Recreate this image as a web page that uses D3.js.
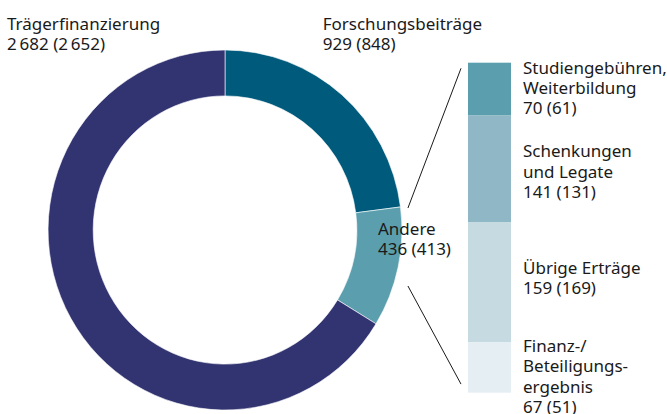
<!DOCTYPE html>
<meta charset="utf-8">
<style>
body { margin: 0; background: #fff; }
text { font-family: "Noto Sans", sans-serif; font-size: 17px; fill: #1a1a1a; }
</style>
<svg width="667" height="414"></svg>
<script src="https://cdn.jsdelivr.net/npm/d3@7"></script>
<script>

// main ring, clockwise from 12 o'clock
var mainCats = ["Forschungsbeiträge", "Andere", "Trägerfinanzierung"],
    mainVals = [929, 436, 2682],
    mainPrev = [848, 413, 2652],
    mainColors = ["#005a7b", "#5b9fae", "#323471"];

// breakdown of "Andere", top to bottom
var subCats = [["Studiengebühren,", "Weiterbildung"], ["Schenkungen", "und Legate"], ["Übrige Erträge"], ["Finanz-/", "Beteiligungs-", "ergebnis"]],
    subVals = [70, 141, 159, 67],
    subPrev = [61, 131, 169, 51],
    subColors = ["#5b9fae", "#8fb7c5", "#c6dbe1", "#e5eef2"];

function fmt(n) { return String(n).replace(/\B(?=(\d{3})+(?!\d))/g, "\u2009"); }

var svg = d3.select("svg"),
    cx = 225, cy = 230,
    radius = 180,
    lh = 20.3;

var g = svg.append("g")
    .attr("transform", "translate(" + cx + "," + cy + ") scale(0.983,1)");

var data = mainCats.map(function(c, i) { return {cat: c, val: mainVals[i], prev: mainPrev[i], color: mainColors[i]}; });

var pie = d3.pie()
    .sort(null)
    .value(function(d) { return d.val; });

var arc = d3.arc()
    .outerRadius(radius)
    .innerRadius(radius * 0.745);

g.selectAll("path")
    .data(pie(data))
    .enter().append("path")
      .attr("d", arc)
      .attr("fill", function(d) { return d.data.color; })
      .attr("stroke", "#fff")
      .attr("stroke-width", 0.6);

// main labels
var mainLabelPos = [[322.7, 30], [378, 235], [7, 30]];
data.forEach(function(d, i) {
  var t = svg.append("text")
      .attr("x", mainLabelPos[i][0])
      .attr("y", mainLabelPos[i][1]);
  t.append("tspan").attr("x", mainLabelPos[i][0]).text(d.cat);
  t.append("tspan").attr("x", mainLabelPos[i][0]).attr("dy", lh).text(fmt(d.val) + " (" + fmt(d.prev) + ")");
});

// stacked bar
var subTotal = d3.sum(subVals);
var y = d3.scaleLinear()
    .domain([0, subTotal])
    .range([62.7, 392.7]);

var barX = 468, barW = 43;
var stack = [];
subVals.reduce(function(acc, v, i) {
  stack.push({lines: subCats[i], val: v, prev: subPrev[i], color: subColors[i], y0: acc, y1: acc + v});
  return acc + v;
}, 0);

svg.selectAll("rect.seg")
    .data(stack)
    .enter().append("rect")
      .attr("class", "seg")
      .attr("x", barX)
      .attr("width", barW)
      .attr("y", function(d) { return y(d.y0); })
      .attr("height", function(d) { return y(d.y1) - y(d.y0); })
      .attr("fill", function(d) { return d.color; });

var labelShift = [0, 4, -3, 10];
stack.forEach(function(d, i) {
  var lines = d.lines.concat([d.val + " (" + d.prev + ")"]);
  var mid = (y(d.y0) + y(d.y1)) / 2;
  var first = mid - (lines.length - 1) * lh / 2 + 5 + labelShift[i];
  var t = svg.append("text").attr("x", 523).attr("y", first);
  lines.forEach(function(l, j) {
    t.append("tspan").attr("x", 523).attr("dy", j ? lh : 0).text(l);
  });
});

// connector lines
var lx0 = cx + radius * 0.983 + 6, lx1 = barX - 7;
svg.append("line")
    .attr("x1", lx0).attr("y1", 208)
    .attr("x2", lx1).attr("y2", y(0) + 5.6)
    .attr("stroke", "#1a1a1a").attr("stroke-width", 1);
svg.append("line")
    .attr("x1", lx0).attr("y1", 286)
    .attr("x2", lx1).attr("y2", y(subTotal) - 8.6)
    .attr("stroke", "#1a1a1a").attr("stroke-width", 1);

</script>
